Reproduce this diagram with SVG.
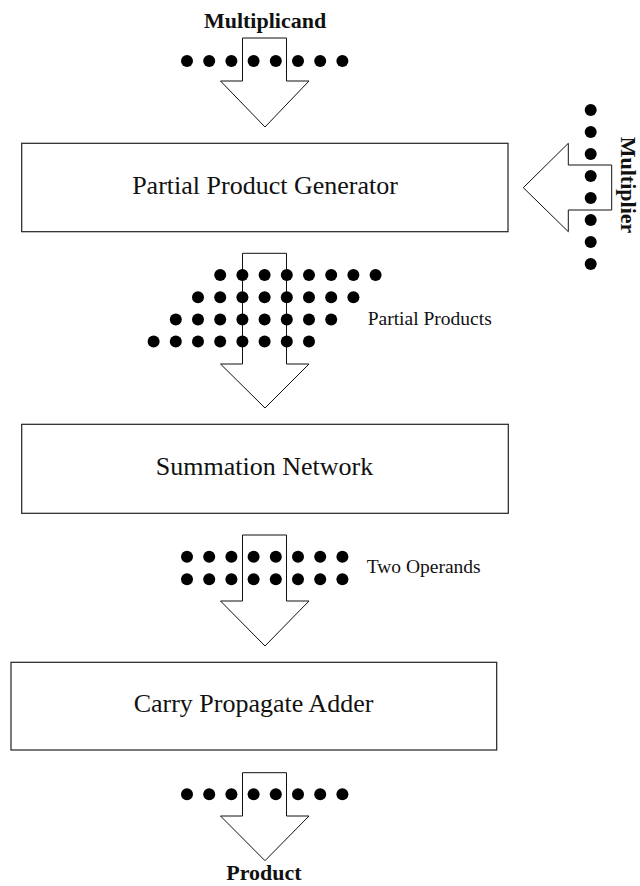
<svg xmlns="http://www.w3.org/2000/svg" width="640" height="886" viewBox="0 0 640 886">
<style>
.box{fill:#fff;stroke:#222;stroke-width:1.2}
.arr{fill:#fff;stroke:#111;stroke-width:1}
.lbl{font-family:"Liberation Serif","Times New Roman",serif;font-size:26px;fill:#111;text-anchor:middle}
.side{font-family:"Liberation Serif","Times New Roman",serif;font-size:19.5px;fill:#111}
.bold{font-family:"Liberation Serif","Times New Roman",serif;font-size:22px;font-weight:bold;fill:#111;text-anchor:middle}
.dot{fill:#000}
</style>
<defs>
<g id="row8">
<circle class="dot" cx="0" cy="0" r="6"/><circle class="dot" cx="22.2" cy="0" r="6"/><circle class="dot" cx="44.4" cy="0" r="6"/><circle class="dot" cx="66.6" cy="0" r="6"/><circle class="dot" cx="88.8" cy="0" r="6"/><circle class="dot" cx="111" cy="0" r="6"/><circle class="dot" cx="133.2" cy="0" r="6"/><circle class="dot" cx="155.4" cy="0" r="6"/>
</g>
<g id="col8">
<circle class="dot" cx="0" cy="0" r="6"/><circle class="dot" cx="0" cy="22" r="6"/><circle class="dot" cx="0" cy="44" r="6"/><circle class="dot" cx="0" cy="66" r="6"/><circle class="dot" cx="0" cy="88" r="6"/><circle class="dot" cx="0" cy="110" r="6"/><circle class="dot" cx="0" cy="132" r="6"/><circle class="dot" cx="0" cy="154" r="6"/>
</g>
</defs>

<g id="connectors">
<polygon id="arrow-multiplicand" class="arr" points="242.5,38 286.5,38 286.5,81 309,81 265,127 220.5,81 242.5,81"/>
<polygon id="arrow-multiplier" class="arr" points="611.7,165 611.7,210 568.3,210 568.3,231.7 523.3,187.7 568.3,143.3 568.3,165"/>
<polygon id="arrow-pp" class="arr" points="242.5,253.3 286.5,253.3 286.5,364 309,364 265,408 220.5,364 242.5,364"/>
<polygon id="arrow-ops" class="arr" points="242.5,535 286.5,535 286.5,601 309,601 265,646 220.5,601 242.5,601"/>
<polygon id="arrow-product" class="arr" points="242.5,772.7 286.5,772.7 286.5,816 309,816 265,860.7 220.5,816 242.5,816"/>
</g>

<g id="multiplicand">
<text class="bold" x="265" y="27.5">Multiplicand</text>
<use href="#row8" x="187" y="61"/>
</g>

<g id="multiplier">
<use href="#col8" x="590.7" y="110"/>
<text class="bold" transform="translate(621,185) rotate(90)">Multiplier</text>
</g>

<g id="partial-product-generator">
<rect class="box" x="21.7" y="143.3" width="486.3" height="88.4"/>
<text class="lbl" x="265" y="194.3">Partial Product Generator</text>
</g>

<g id="partial-products">
<use href="#row8" x="220.2" y="275"/>
<use href="#row8" x="198" y="297.2"/>
<use href="#row8" x="175.8" y="319.4"/>
<use href="#row8" x="153.6" y="341.6"/>
<text class="side" x="367.7" y="325">Partial Products</text>
</g>

<g id="summation-network">
<rect class="box" x="21.7" y="424.3" width="486.6" height="89"/>
<text class="lbl" x="264.5" y="475">Summation Network</text>
</g>

<g id="two-operands">
<use href="#row8" x="187" y="556.7"/>
<use href="#row8" x="187" y="579.3"/>
<text class="side" x="366.7" y="573.3">Two Operands</text>
</g>

<g id="carry-propagate-adder">
<rect class="box" x="11" y="662.3" width="485.7" height="87.7"/>
<text class="lbl" x="253.5" y="711.7">Carry Propagate Adder</text>
</g>

<g id="product">
<use href="#row8" x="187" y="794.3"/>
<text class="bold" x="264" y="879.5">Product</text>
</g>
</svg>
